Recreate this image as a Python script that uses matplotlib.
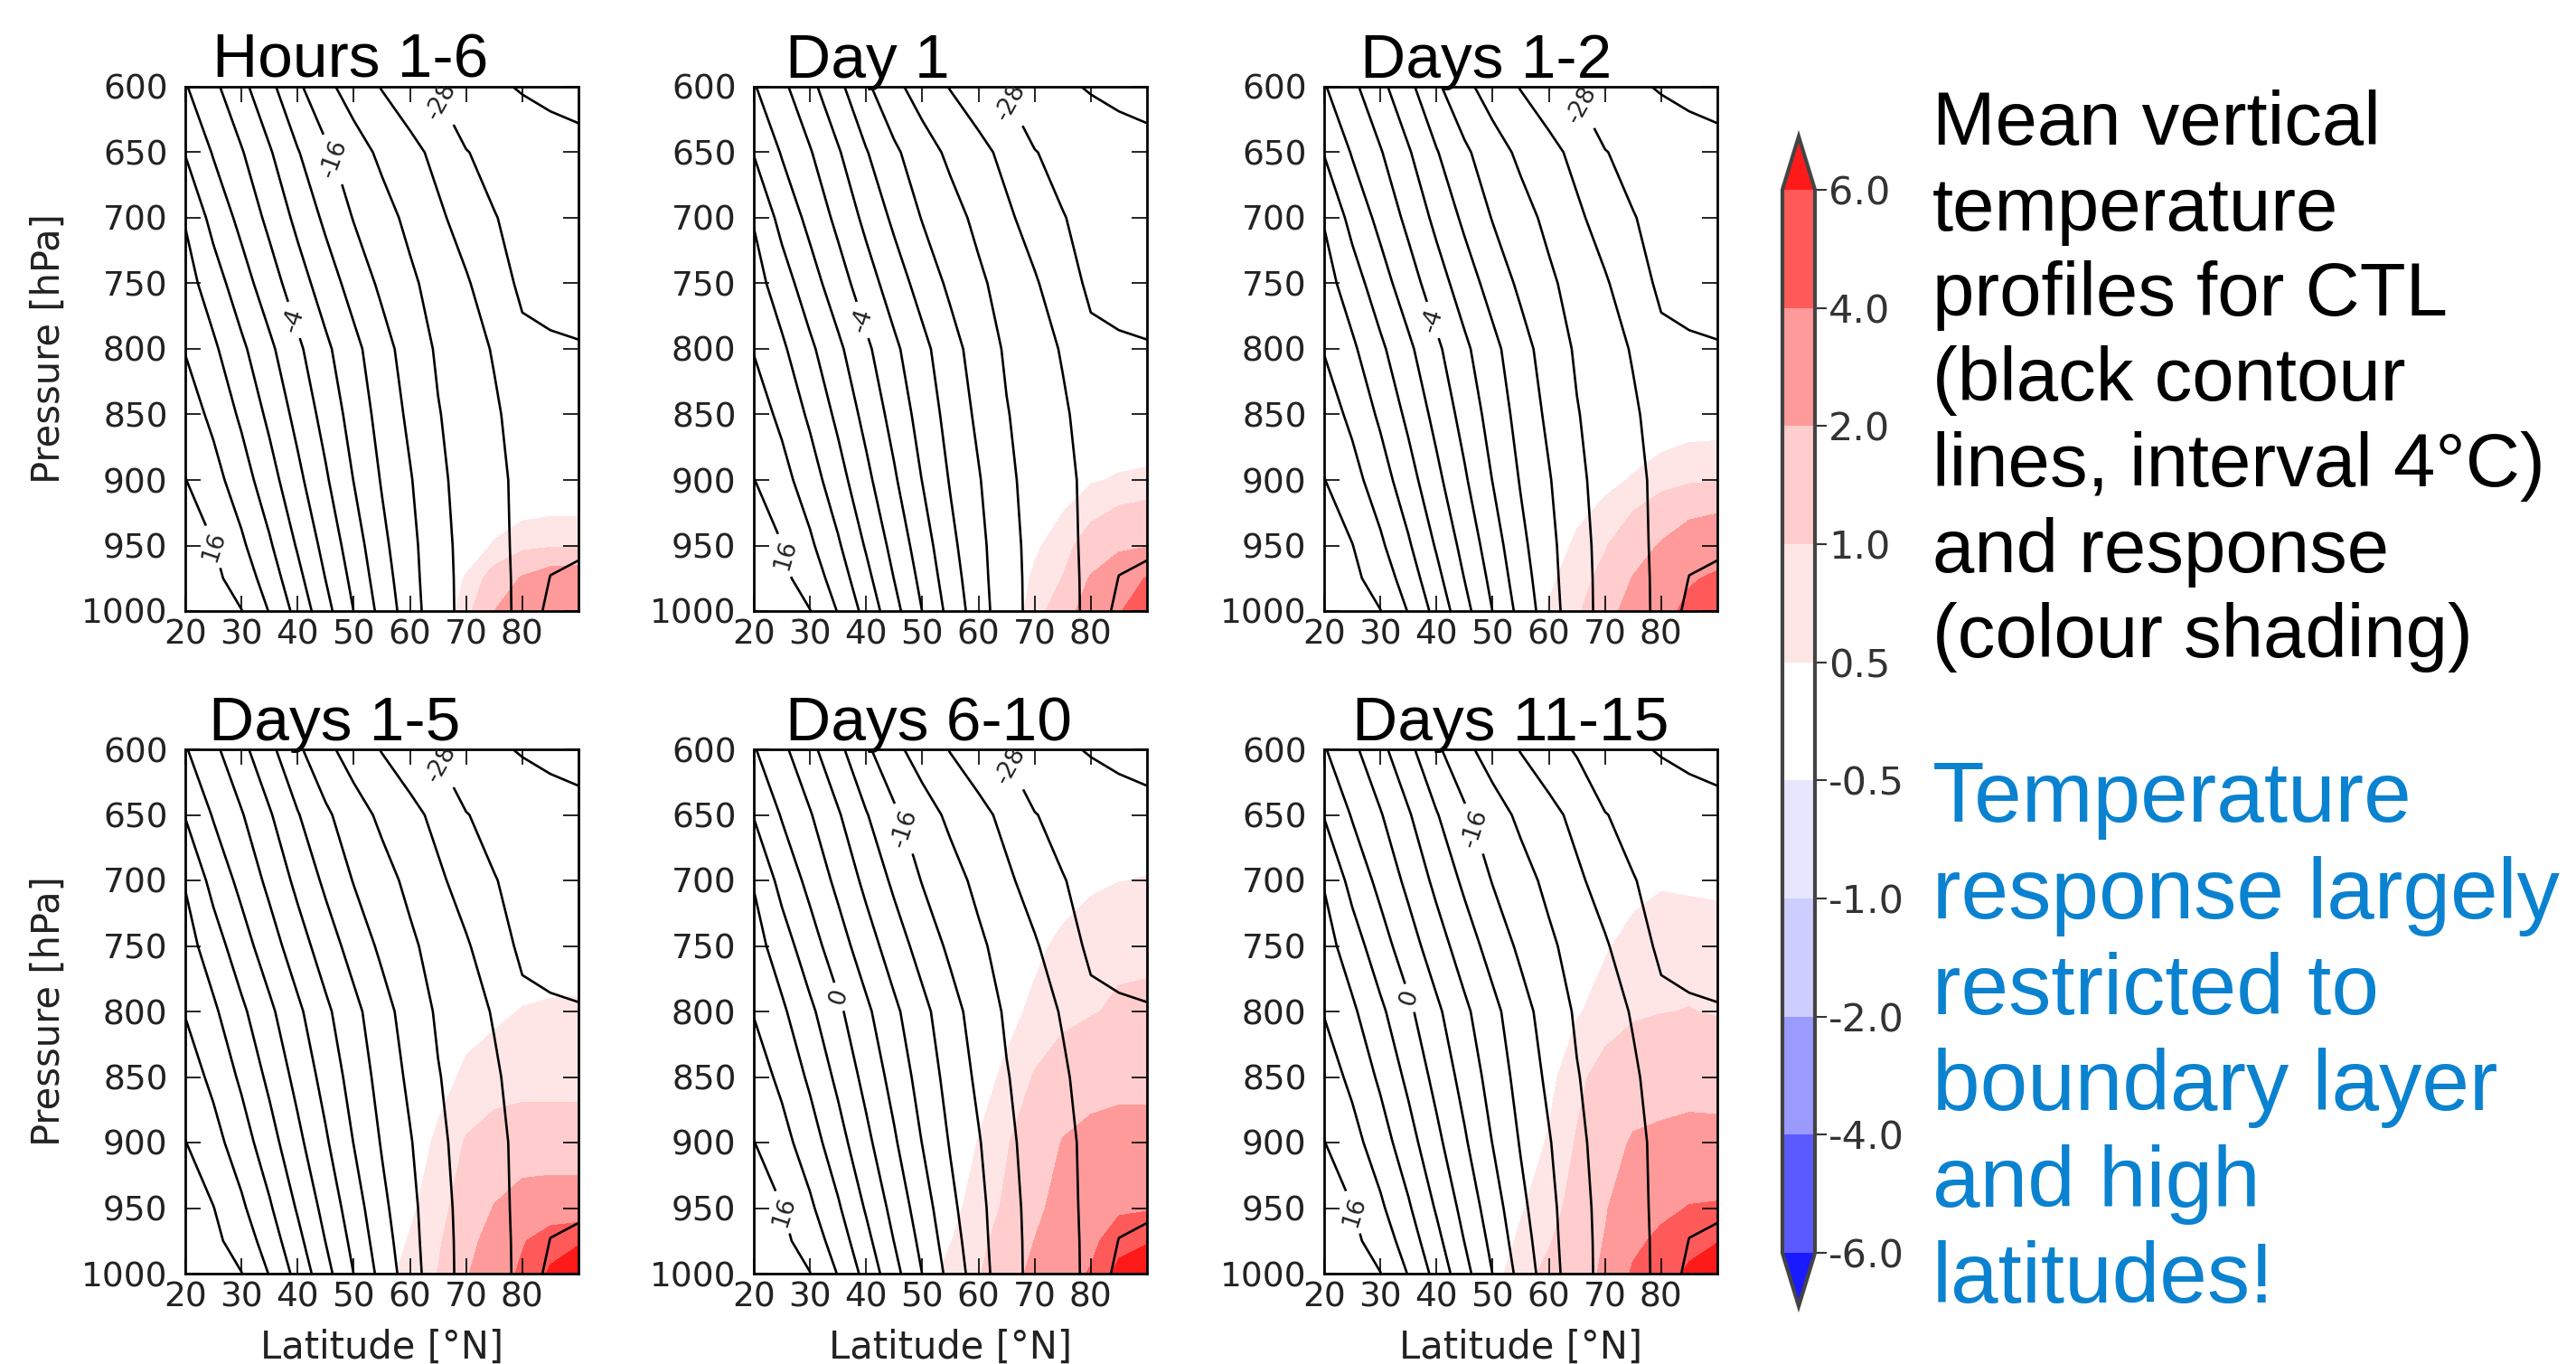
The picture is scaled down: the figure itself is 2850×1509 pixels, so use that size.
import numpy as np
import matplotlib
matplotlib.use("Agg")
import matplotlib.pyplot as plt
from matplotlib.colors import ListedColormap, BoundaryNorm

# ------------------------------------------------------------------ data
panel_titles = ["Hours 1-6", "Day 1", "Days 1-2", "Days 1-5", "Days 6-10", "Days 11-15"]

# CTL mean temperature (deg C) on latitude x pressure grid
lat_t = [20, 25, 30, 35, 40, 45, 50, 55, 60, 65, 70, 75, 80, 85, 90]
p_t = [600, 650, 700, 750, 800, 850, 900, 950, 975, 1000]
temp_ctl = [
    [0.3, -3.1, -6.9, -11.0, -15.3, -19.0, -21.8, -24.2, -26.4, -28.4, -30.0, -31.6, -32.2, -32.6, -33.0],
    [3.8, -0.3, -3.7, -7.6, -11.75, -15.3, -18.3, -20.8, -22.8, -25.1, -27.9, -28.75, -30.5, -31.0, -31.2],
    [7.7, 2.7, -1.1, -5.0, -9.0, -12.8, -16.2, -18.6, -20.9, -23.3, -25.6, -27.9, -28.7, -29.3, -30.0],
    [9.7, 5.9, 1.7, -2.2, -6.2, -10.0, -13.6, -16.8, -19.3, -21.5, -23.6, -26.1, -28.8, -29.0, -29.2],
    [11.8, 8.7, 4.8, 0.8, -3.2, -7.2, -10.9, -14.5, -17.8, -20.5, -22.4, -24.3, -27.0, -27.6, -27.8],
    [14.0, 11.1, 7.3, 3.1, -1.2, -5.4, -9.6, -13.4, -16.8, -19.8, -21.7, -23.5, -25.5, -26.5, -27.0],
    [16.1, 13.4, 9.9, 5.6, 1.0, -3.5, -8.1, -12.3, -15.7, -19.2, -21.4, -23.2, -24.8, -26.2, -26.8],
    [17.8, 16.1, 12.7, 8.5, 3.6, -1.3, -6.1, -11.0, -14.9, -18.7, -21.2, -23.0, -24.8, -27.0, -27.5],
    [18.7, 16.9, 14.3, 10.1, 5.1, -0.1, -5.1, -10.2, -14.6, -18.6, -21.1, -22.9, -24.75, -28.1, -28.6],
    [19.5, 17.8, 16.1, 11.8, 6.7, 1.3, -4.05, -9.3, -14.2, -18.5, -21.1, -22.9, -24.7, -29.3, -30.0],
]
contour_levels = [-32, -28, -24, -20, -16, -12, -8, -4, 0, 4, 8, 12, 16]

# temperature response (deg C), high-latitude lower-troposphere sub-grid
lat_r = [50, 55, 60, 65, 70, 75, 80, 85, 90]
p_r = [650, 700, 750, 800, 850, 900, 950, 975, 1000]
resp_hours_1_6 = [
    [0, 0, 0, 0, 0, 0, 0, 0, 0],
    [0, 0, 0, 0, 0, 0, 0, 0, 0],
    [0, 0, 0, 0, 0, 0, 0, 0, 0],
    [0, 0, 0, 0, 0, 0, 0, 0, 0],
    [0, 0, 0, 0, 0, 0, 0, 0, 0],
    [0, 0, 0, 0, 0, 0, 0, 0, 0],
    [0, 0, 0, 0, 0.2, 0.55, 0.8, 0.9, 0.9],
    [0, 0, 0, 0.05, 0.55, 1.3, 2.1, 2.6, 2.7],
    [0, 0, 0, 0.1, 0.75, 2.0, 2.9, 3.4, 3.5],
]
resp_day_1 = [
    [0, 0, 0, 0, 0, 0, 0, 0, 0],
    [0, 0, 0, 0, 0, 0, 0, 0, 0],
    [0, 0, 0, 0, 0, 0, 0, 0, 0],
    [0, 0, 0, 0, 0, 0, 0, 0, 0],
    [0, 0, 0, 0, 0, 0, 0.05, 0.1, 0.1],
    [0, 0, 0, 0, 0.05, 0.2, 0.45, 0.55, 0.6],
    [0, 0, 0, 0, 0.4, 0.8, 1.3, 1.7, 1.9],
    [0, 0, 0, 0.05, 0.6, 1.02, 2.1, 3.2, 4.1],
    [0, 0, 0, 0.1, 0.75, 1.4, 2.7, 3.9, 4.8],
]
resp_days_1_2 = [
    [0, 0, 0, 0, 0, 0, 0, 0, 0],
    [0, 0, 0, 0, 0, 0, 0, 0, 0],
    [0, 0, 0, 0, 0, 0, 0, 0, 0],
    [0, 0, 0, 0, 0, 0, 0, 0, 0],
    [0, 0, 0, 0, 0, 0.05, 0.15, 0.2, 0.2],
    [0, 0, 0, 0.2, 0.35, 0.55, 0.75, 0.9, 0.95],
    [0, 0, 0.2, 0.6, 0.95, 1.5, 2.1, 2.7, 3.0],
    [0, 0, 0.4, 0.75, 1.2, 2.05, 2.8, 3.8, 4.3],
    [0, 0, 0.55, 0.9, 1.55, 2.5, 3.3, 4.5, 5.2],
]
resp_days_1_5 = [
    [0, 0, 0, 0, 0, 0, 0, 0, 0],
    [0, 0, 0, 0, 0, 0, 0, 0, 0],
    [0, 0, 0, 0, 0, 0.15, 0.25, 0.3, 0.3],
    [0, 0, 0, 0.1, 0.3, 0.42, 0.52, 0.55, 0.56],
    [0, 0, 0.05, 0.3, 0.6, 0.7, 0.75, 0.75, 0.75],
    [0, 0, 0.2, 0.6, 1.05, 1.3, 1.4, 1.4, 1.4],
    [0, 0.05, 0.4, 0.8, 1.3, 2.05, 2.5, 2.6, 2.6],
    [0, 0.15, 0.55, 0.9, 1.6, 2.5, 3.8, 5.2, 5.8],
    [0, 0.3, 0.7, 1.02, 1.9, 2.8, 4.4, 6.3, 7.2],
]
resp_days_6_10 = [
    [0, 0, 0, 0, 0, 0, 0.2, 0.25, 0.25],
    [0, 0, 0, 0, 0.15, 0.3, 0.42, 0.49, 0.52],
    [0, 0, 0, 0.15, 0.4, 0.6, 0.75, 0.85, 0.85],
    [0, 0, 0.1, 0.35, 0.6, 0.8, 0.95, 1.1, 1.15],
    [0, 0.05, 0.3, 0.6, 1.05, 1.4, 1.6, 1.7, 1.7],
    [0, 0.2, 0.52, 0.95, 1.4, 2.05, 2.3, 2.4, 2.4],
    [0.05, 0.35, 0.7, 1.1, 1.7, 2.5, 3.0, 3.6, 3.8],
    [0.1, 0.48, 0.85, 1.25, 2.02, 2.8, 3.4, 5.3, 5.8],
    [0.2, 0.7, 0.95, 1.5, 2.3, 3.1, 4.2, 6.6, 7.5],
]
resp_days_11_15 = [
    [0, 0, 0, 0, 0, 0.1, 0.15, 0.15, 0.15],
    [0, 0, 0, 0, 0.15, 0.35, 0.45, 0.42, 0.4],
    [0, 0, 0, 0.2, 0.45, 0.65, 0.75, 0.75, 0.72],
    [0, 0, 0.15, 0.45, 0.7, 0.9, 0.98, 1.02, 0.95],
    [0, 0.05, 0.35, 0.85, 1.25, 1.5, 1.6, 1.65, 1.6],
    [0, 0.2, 0.55, 1.05, 1.6, 2.1, 2.2, 2.3, 2.3],
    [0.05, 0.45, 0.8, 1.2, 1.9, 2.8, 3.5, 4.1, 4.2],
    [0.15, 0.6, 0.95, 1.4, 2.05, 3.5, 4.5, 5.3, 5.9],
    [0.3, 0.8, 1.15, 1.6, 2.15, 4.3, 5.0, 6.4, 7.5],
]
responses = [resp_hours_1_6, resp_day_1, resp_days_1_2,
             resp_days_1_5, resp_days_6_10, resp_days_11_15]

shading_levels = [-6, -4, -2, -1, -0.5, 0.5, 1, 2, 4, 6]
lat_ticks = [20, 30, 40, 50, 60, 70, 80]
p_ticks = [600, 650, 700, 750, 800, 850, 900, 950, 1000]

text_black = ["Mean vertical", "temperature", "profiles for CTL", "(black contour",
              "lines, interval 4\u00b0C)", "and response", "(colour shading)"]
text_blue = ["Temperature", "response largely", "restricted to",
             "boundary layer", "and high", "latitudes!"]

# ------------------------------------------------------------------ style / layout
W, H = 2850, 1509
fig = plt.figure(figsize=(W / 100, H / 100), dpi=100)
fig.patch.set_facecolor("white")

shade_colors = ["#5a5aff", "#9a9aff", "#cdcdff", "#e6e6ff", "#ffffff",
                "#ffe6e6", "#ffcdcd", "#ff9a9a", "#ff5a5a"]
cmap = ListedColormap(shade_colors)
cmap.set_under("#1a1aff")
cmap.set_over("#ff1a1a")
norm = BoundaryNorm(shading_levels, cmap.N)

col_left_px = [205, 834, 1465]
row_bottom_px = [676, 1409]
ax_w_px, ax_h_px = 435, 580

# label anchor points (lat, p) for inline contour labels, per panel
label_points = [
    [(66, 610), (46.5, 655), (39.3, 778), (24, 952)],
    [(66, 611), (39.3, 778), (25, 958)],
    [(67, 611), (39.3, 778)],
    [(66, 610)],
    [(66, 612), (47, 660), (35, 789), (23.5, 955)],
    [(47, 660), (35, 790), (23.5, 955)],
]
title_offset = [0.07, 0.08, 0.092, 0.06, 0.08, 0.071]

LT, PT = np.meshgrid(lat_t, p_t)
LR, PR = np.meshgrid(lat_r, p_r)
T = np.array(temp_ctl)

cf = None
for i in range(6):
    r, c = divmod(i, 3)
    left = col_left_px[c] / W
    bottom = 1 - row_bottom_px[r] / H
    ax = fig.add_axes([left, bottom, ax_w_px / W, ax_h_px / H])

    cf = ax.contourf(LR, PR, np.array(responses[i]), levels=shading_levels,
                     cmap=cmap, norm=norm, extend="both")
    cs = ax.contour(LT, PT, T, levels=contour_levels, colors="k",
                    linewidths=1.9, linestyles="solid")
    ax.clabel(cs, manual=label_points[i], inline=True,
              inline_spacing=8, fmt="%1.0f", fontsize=19, colors="#222222")

    ax.set_xlim(20, 90)
    ax.set_ylim(1000, 600)
    ax.set_xticks(lat_ticks)
    ax.set_yticks(p_ticks)
    ax.tick_params(direction="in", length=12, width=1.2, top=True, right=True,
                   labelsize=27, labelcolor="#222222")
    ax.tick_params(axis="y", pad=14)
    ax.tick_params(axis="x", pad=6)
    for s in ax.spines.values():
        s.set_linewidth(2.0)

    ax.text(title_offset[i], 1.018, panel_titles[i], transform=ax.transAxes,
            ha="left", va="baseline", fontsize=50, family="Liberation Sans",
            color="black")
    if c == 0:
        ax.set_ylabel("Pressure [hPa]", fontsize=30, color="#222222")
        ax.yaxis.set_label_coords(-0.30, 0.5)
    if r == 1:
        ax.set_xlabel("Latitude [\u00b0N]", fontsize=30, color="#222222")
        ax.xaxis.set_label_coords(0.5, -0.105)

# colorbar (axes spans tip to tip of the extension triangles)
cax = fig.add_axes([1972 / W, 1 - 1445 / H, 36 / W, (1445 - 151) / H])
cb = fig.colorbar(cf, cax=cax, extend="both", extendfrac=0.05,
                  ticks=shading_levels, format="%.1f")
cb.outline.set_linewidth(3)
cb.outline.set_edgecolor("#444444")
cax.tick_params(direction="out", length=9, width=1.5, color="#333333",
                labelsize=31, labelcolor="#333333", pad=2)

# right-hand annotation text
x_txt = 2138 / W
for k, line in enumerate(text_black):
    fig.text(x_txt, 1 - (160 + 94.5 * k) / H, line, fontsize=60,
             family="Liberation Sans", color="black", va="baseline", ha="left")
for k, line in enumerate(text_blue):
    fig.text(x_txt, 1 - (909 + 106.5 * k) / H, line, fontsize=68,
             family="Liberation Sans", color="#0a82d0", va="baseline", ha="left")

fig.savefig("out.png", dpi=100, facecolor="white")
